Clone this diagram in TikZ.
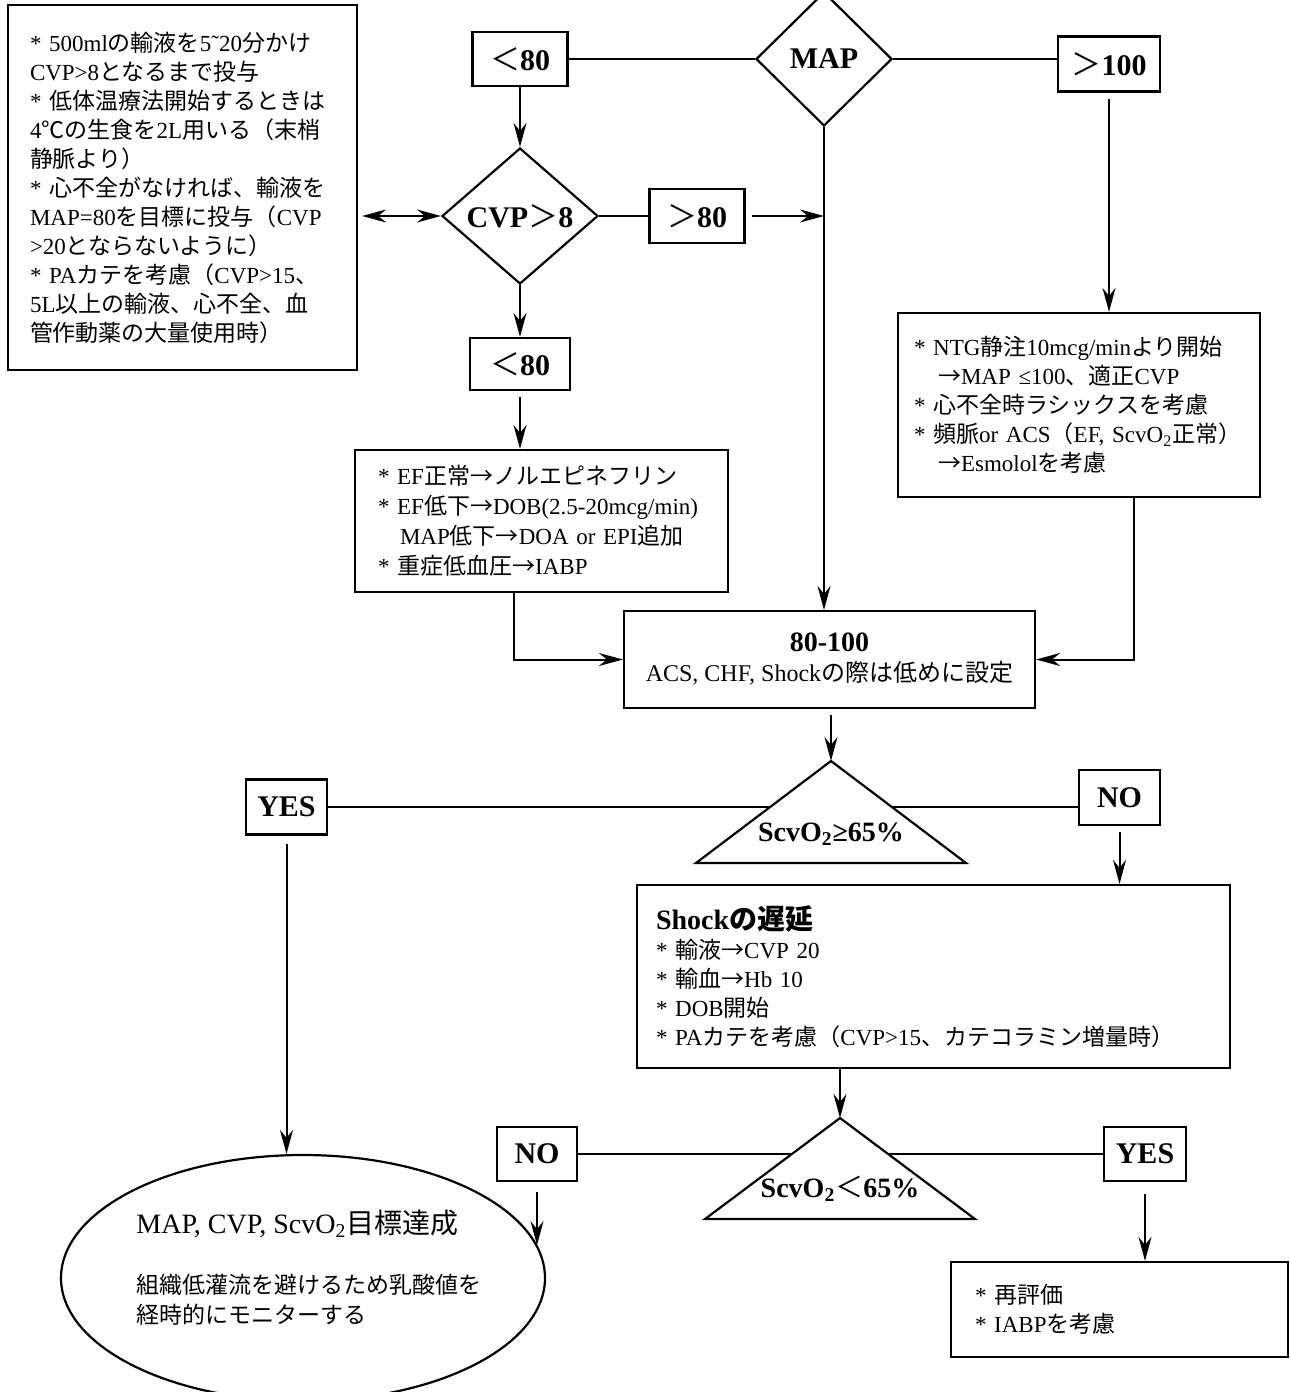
\documentclass[tikz,border=0pt]{standalone}
\usepackage{fontspec}
\setmainfont{Liberation Serif}
\newfontfamily\jpfont{Noto Sans CJK JP}
\usetikzlibrary{arrows.meta, shapes.geometric}

\XeTeXinterchartokenstate=1
\newXeTeXintercharclass\jpclass
\newcount\jpcnt
\def\setjprange#1#2{\jpcnt=#1 \loop\XeTeXcharclass\jpcnt=\jpclass\relax
  \ifnum\jpcnt<#2 \advance\jpcnt by 1 \repeat}
\setjprange{"3000}{"30FF}
\setjprange{"4E00}{"9FFF}
\setjprange{"FF00}{"FFEF}
\XeTeXcharclass"2103=\jpclass
\XeTeXcharclass"2192=\jpclass
\XeTeXinterchartoks 0 \jpclass = {\begingroup\jpfont}
\XeTeXinterchartoks 4095 \jpclass = {\begingroup\jpfont}
\XeTeXinterchartoks \jpclass 0 = {\endgroup}
\XeTeXinterchartoks \jpclass 4095 = {\endgroup}

\tikzset{
  lbl/.style={draw=black, line width=1.1pt, inner sep=0pt, font=\bfseries\fontsize{15}{18}\selectfont},
  dec/.style={diamond, draw=black, line width=1.1pt, inner sep=0pt, font=\bfseries\fontsize{15}{18}\selectfont},
  note/.style={draw=black, line width=1.1pt, align=left, inner sep=0pt, font=\fontsize{11.5}{14.5}\selectfont},
  ln/.style={line width=1pt},
  arr/.style={line width=1pt, shorten <=3pt, -{Stealth[length=12pt, width=6.5pt, inset=4pt]}},
  dbl/.style={line width=1pt, {Stealth[length=12pt, width=6.5pt, inset=4pt]}-{Stealth[length=12pt, width=6.5pt, inset=4pt]}},
}

\begin{document}
\begin{tikzpicture}[x=0.5pt, y=-0.5pt]
  \useasboundingbox (0,0) rectangle (1290,1392);

  \node[note, minimum width=174.5pt, minimum height=182.5pt, text width=152.5pt] (fluid) at (182.5,187.5) {* 500mlの輸液を5˜20分かけ\\CVP>8となるまで投与\\{}* 低体温療法開始するときは\\4℃の生食を2L用いる（末梢\\静脈より）\\{}* 心不全がなければ、輸液を\\MAP=80を目標に投与（CVP\\>20とならないように）\\{}* PAカテを考慮（CVP>15、\\5L以上の輸液、心不全、血\\管作動薬の大量使用時）};

  \node[lbl, minimum width=47.5pt, minimum height=27pt] (lo) at (520,59) {{\mdseries ＜}80};
  \node[dec, minimum width=68pt, minimum height=67pt] (map) at (824,59) {MAP};
  \node[lbl, minimum width=51pt, minimum height=27.5pt] (hi) at (1109,64) {{\mdseries ＞}100};
  \node[dec, minimum width=78pt, minimum height=68pt] (cvp) at (520,216) {CVP{\mdseries ＞}8};
  \node[lbl, minimum width=47.5pt, minimum height=27pt] (cvphi) at (697,216) {{\mdseries ＞}80};
  \node[lbl, minimum width=50pt, minimum height=26pt] (cvplo) at (520,364) {{\mdseries ＜}80};

  \node[note, minimum width=186.5pt, minimum height=71pt, text width=163.5pt, font=\fontsize{11.5}{15}\selectfont] (ino) at (541.5,521) {* EF正常→ノルエピネフリン\\{}* EF低下→DOB(2.5-20mcg/min)\\\hspace*{11pt}MAP低下→DOA or EPI追加\\{}* 重症低血圧→IABP};
  \node[note, minimum width=181pt, minimum height=92pt, text width=165pt] (ntg) at (1079,405) {* NTG静注10mcg/minより開始\\\hspace*{12pt}→MAP ≤100、適正CVP\\{}* 心不全時ラシックスを考慮\\{}* 頻脈or~ACS（EF,~ScvO\textsubscript{2}正常）\\\hspace*{12pt}→Esmololを考慮};

  \node[draw=black, line width=1.1pt, align=center, minimum width=205.5pt, minimum height=48.5pt, font=\fontsize{12}{15}\selectfont] (target) at (829.5,659.5) {{\bfseries\fontsize{14}{15}\selectfont 80-100}\\ACS, CHF, Shockの際は低めに設定};

  \coordinate (scv) at (831,761);
  \coordinate (rescv) at (840,1118);

  \node[lbl, minimum width=40.5pt, minimum height=27.5pt] (yes) at (286.5,807) {YES};
  \node[lbl, minimum width=40.5pt, minimum height=27.5pt] (no) at (1119.5,797.5) {NO};
  \node[note, minimum width=296.5pt, minimum height=91.5pt, text width=277.5pt] (shock) at (933.5,976.5) {{\bfseries\fontsize{14}{16}\selectfont Shockの遅延}\\{}* 輸液→CVP 20\\{}* 輸血→Hb 10\\{}* DOB開始\\{}* PAカテを考慮（CVP>15、カテコラミン増量時）};

  \node[lbl, minimum width=40pt, minimum height=27pt] (reno) at (537,1154) {NO};
  \node[lbl, minimum width=41pt, minimum height=27pt] (reyes) at (1145,1154) {YES};
  \node[note, minimum width=168.5pt, minimum height=47.5pt, text width=144.5pt] (reeval) at (1119.5,1309.5) {* 再評価\\{}* IABPを考慮};

  \node[ellipse, draw=black, line width=1.1pt, minimum width=242pt, minimum height=123pt] (goal) at (303,1278) {};
  \node[anchor=west, inner sep=0pt, font=\fontsize{14}{17}\selectfont] (goalt) at (136,1224) {MAP, CVP, ScvO\textsubscript{2}目標達成};
  \node[anchor=west, inner sep=0pt, align=left, font=\fontsize{11.5}{15}\selectfont] (goals) at (136,1300) {組織低灌流を避けるため乳酸値を\\経時的にモニターする};

  \draw[ln] (lo.east) -- (map.west);
  \draw[ln] (map.east) -- (map.east -| hi.west);
  \draw[arr, shorten <=0pt] (lo) -- (cvp);
  \draw[dbl] ([xshift=2pt]fluid.east |- cvp.west) -- (cvp.west);
  \draw[ln] (cvp.east) -- (cvphi.west);
  \draw[arr] (cvphi.east) -- (cvphi.east -| map.south);
  \draw[arr, shorten <=0pt] (map.south) -- (map.south |- target.north);
  \draw[arr] (hi.south) -- (hi.south |- ntg.north);
  \draw[arr, shorten <=0pt] (cvp.south) -- (cvplo.north);
  \draw[arr] (cvplo.south) -- (cvplo.south |- ino.north);
  \draw[arr, shorten <=0pt] ([xshift=-14pt]ino.south) |- (target.west);
  \draw[arr, shorten <=0pt] ([xshift=27.5pt]ntg.south) |- (target.east);
  \draw[arr] (target.south -| scv) -- (scv);

  \draw[ln] (yes.east) -- (yes.east -| no.west);
  \draw[ln] (reno.east) -- (reyes.west);
  \draw[line width=1.1pt, fill=white] (scv) -- (696,863) -- (966,863) -- cycle;
  \draw[line width=1.1pt, fill=white] (rescv) -- (705,1219) -- (975,1219) -- cycle;
  \node[font=\bfseries\fontsize{14}{16}\selectfont] (scvt) at (831,834) {ScvO\textsubscript{2}≥65\%};
  \node[font=\bfseries\fontsize{14}{16}\selectfont] (rescvt) at (840,1189) {ScvO\textsubscript{2}{\mdseries ＜}65\%};

  \draw[arr] (no.south) -- (no.south |- shock.north);
  \draw[arr, shorten <=4pt] (yes.south) -- (yes.south |- goal.north);
  \draw[arr, shorten <=0pt] (shock.south -| rescv) -- (rescv);
  \draw[arr, shorten <=5pt] (reno.south) -- (reno.south |- goal.8);
  \draw[arr, shorten <=6pt] (reyes.south) -- (reyes.south |- reeval.north);
\end{tikzpicture}
\end{document}
